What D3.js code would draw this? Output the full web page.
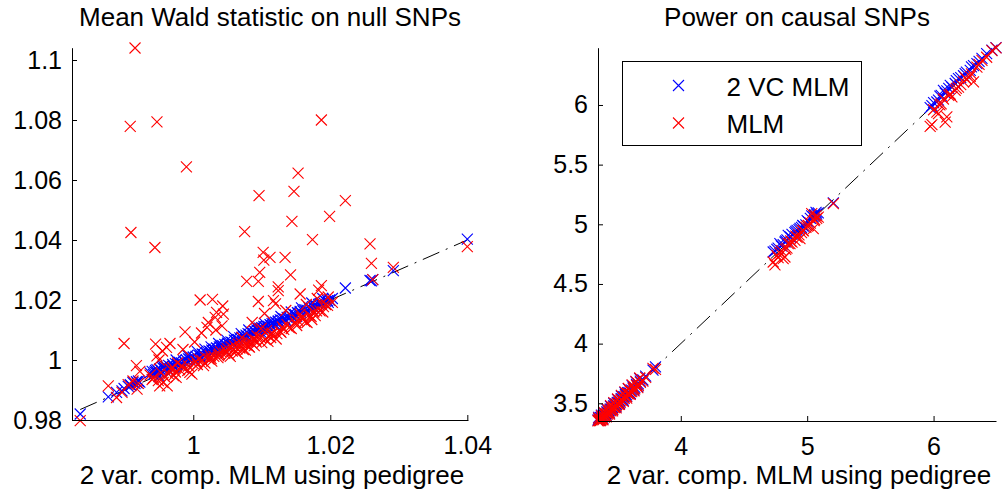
<!DOCTYPE html>
<html>
<head>
<meta charset="utf-8">
<script src="https://d3js.org/d3.v7.min.js"></script>
<style>
  body { margin: 0; background: #fff; }
</style>
</head>
<body>
<svg id="chart" width="1005" height="495"></svg>
<script>

// left panel: mean Wald statistic on null SNPs (x shared by both series)
let nullX = [
    0.9835, 0.9876, 0.9888, 0.9896, 0.9899, 0.9905, 0.9908, 0.9909, 0.9912, 0.9915, 0.9917, 0.9918, 0.9920, 0.9922,
    0.9937, 0.9940, 0.9942, 0.9944, 0.9945, 0.9947, 0.9947, 0.9949, 0.9951, 0.9953, 0.9955, 0.9958, 0.9961, 0.9962, 0.9964,
    0.9967, 0.9970, 0.9971, 0.9974, 0.9977, 0.9980, 0.9983, 0.9986, 0.9988, 0.9990, 0.9993, 0.9995, 0.9998, 1.0000,
    1.0004, 1.0008, 1.0010, 1.0013, 1.0015, 1.0018, 1.0020, 1.0023, 1.0025, 1.0027, 1.0028, 1.0030, 1.0032, 1.0034, 1.0036, 1.0038,
    1.0040, 1.0042, 1.0044, 1.0046, 1.0048, 1.0050, 1.0052, 1.0055, 1.0057, 1.0060, 1.0062, 1.0064, 1.0066, 1.0068, 1.0071, 1.0073,
    1.0075, 1.0077, 1.0078, 1.0080, 1.0082, 1.0085, 1.0087, 1.0089, 1.0091, 1.0093, 1.0095, 1.0095, 1.0096, 1.0097, 1.0098, 1.0100,
    1.0102, 1.0103, 1.0105, 1.0107, 1.0110, 1.0112, 1.0113, 1.0115, 1.0117, 1.0120, 1.0122, 1.0124, 1.0124, 1.0127, 1.0130,
    1.0132, 1.0134, 1.0137, 1.0140, 1.0142, 1.0144, 1.0147, 1.0149, 1.0152, 1.0153, 1.0156, 1.0156, 1.0160, 1.0163, 1.0166,
    1.0169, 1.0172, 1.0174, 1.0176, 1.0178, 1.0180, 1.0183, 1.0185, 1.0187, 1.0187, 1.0190, 1.0193, 1.0196, 1.0199, 1.0203,
    1.0222, 1.0258, 1.0260, 1.0262, 1.0292, 1.0400,
    0.9950, 0.9956, 0.9966, 0.9975, 0.9985, 0.9992, 1.0002, 1.0006, 1.0012, 1.0017, 1.0022, 1.0026, 1.0033,
    1.0037, 1.0043, 1.0049, 1.0054, 1.0059, 1.0065, 1.0070, 1.0076, 1.0081, 1.0086, 1.0092, 1.0099, 1.0104,
    1.0109, 1.0114, 1.0121, 1.0128, 1.0135, 1.0143, 1.0151, 1.0158, 1.0165, 1.0173, 1.0181, 1.0189, 1.0197
];
let nullY2vc = [
    0.9820, 0.9877, 0.9892, 0.9897, 0.9905, 0.9912, 0.9918, 0.9915, 0.9925, 0.9921, 0.9928, 0.9924, 0.9930, 0.9926,
    0.9957, 0.9962, 0.9952, 0.9960, 0.9965, 0.9958, 0.9968, 0.9962, 0.9970, 0.9966, 0.9975, 0.9970, 0.9978, 0.9972, 0.9982,
    0.9976, 0.9985, 0.9979, 0.9988, 0.9985, 0.9992, 0.9990, 0.9997, 0.9994, 1.0000, 1.0004, 1.0002, 1.0008, 1.0010,
    1.0012, 1.0016, 1.0014, 1.0020, 1.0018, 1.0024, 1.0022, 1.0030, 1.0027, 1.0033, 1.0030, 1.0036, 1.0034, 1.0040, 1.0038, 1.0044,
    1.0043, 1.0049, 1.0046, 1.0052, 1.0050, 1.0056, 1.0054, 1.0060, 1.0058, 1.0066, 1.0063, 1.0069, 1.0068, 1.0074, 1.0075, 1.0080,
    1.0078, 1.0083, 1.0080, 1.0088, 1.0085, 1.0092, 1.0090, 1.0096, 1.0094, 1.0100, 1.0098, 1.0104, 1.0100, 1.0106, 1.0103, 1.0108,
    1.0106, 1.0112, 1.0110, 1.0114, 1.0112, 1.0118, 1.0116, 1.0121, 1.0120, 1.0126, 1.0124, 1.0130, 1.0128, 1.0134, 1.0132,
    1.0138, 1.0136, 1.0142, 1.0143, 1.0148, 1.0146, 1.0152, 1.0151, 1.0158, 1.0156, 1.0162, 1.0159, 1.0164, 1.0168, 1.0166,
    1.0174, 1.0172, 1.0178, 1.0176, 1.0182, 1.0180, 1.0185, 1.0188, 1.0186, 1.0190, 1.0192, 1.0196, 1.0198, 1.0200, 1.0205,
    1.0240, 1.0265, 1.0264, 1.0268, 1.0298, 1.0403,
    0.9945, 0.9980, 0.9960, 1.0000, 0.9975, 1.0015, 0.9998, 1.0028, 1.0005, 1.0036, 1.0012, 1.0044, 1.0025,
    1.0055, 1.0036, 1.0066, 1.0047, 1.0078, 1.0058, 1.0088, 1.0070, 1.0100, 1.0079, 1.0112, 1.0092, 1.0122,
    1.0101, 1.0132, 1.0115, 1.0145, 1.0130, 1.0160, 1.0145, 1.0174, 1.0160, 1.0190, 1.0176, 1.0205, 1.0192
];
let nullYmlm = [
    0.9798, 0.9914, 0.9875, 0.9892, 1.0055, 0.9918, 1.0779, 1.0425, 0.9930, 1.1040, 0.9981, 0.9903, 0.9922, 0.9962,
    0.9950, 0.9935, 0.9940, 1.0375, 1.0053, 1.0794, 1.0014, 0.9931, 0.9914, 0.9958, 1.0030, 0.9945, 1.0042, 0.9914, 0.9953,
    0.9970, 0.9975, 0.9948, 0.9960, 0.9990, 0.9968, 0.9981, 0.9972, 1.0094, 1.0644, 0.9980, 0.9959, 0.9953, 0.9988,
    0.9995, 1.0003, 1.0200, 0.9998, 0.9981, 1.0009, 1.0109, 1.0003, 1.0014, 0.9996, 1.0202, 1.0012, 1.0142, 1.0159, 1.0008, 1.0020,
    1.0028, 1.0114, 1.0153, 1.0022, 1.0031, 1.0038, 1.0018, 1.0044, 1.0030, 1.0048, 1.0027, 1.0037, 1.0053, 1.0040, 1.0075, 1.0035,
    1.0428, 1.0050, 1.0262, 1.0062, 1.0043, 1.0058, 1.0070, 1.0048, 1.0066, 1.0080, 1.0195, 1.0262, 1.0548, 1.0292, 1.0075, 1.0058,
    1.0359, 1.0333, 1.0068, 1.0098, 1.0080, 1.0342, 1.0075, 1.0090, 1.0198, 1.0187, 1.0088, 1.0231, 1.0244, 1.0095, 1.0110,
    1.0102, 1.0342, 1.0118, 1.0108, 1.0284, 1.0462, 1.0562, 1.0125, 1.0133, 1.0623, 1.0220, 1.0153, 1.0140, 1.0128, 1.0125,
    1.0150, 1.0145, 1.0401, 1.0160, 1.0148, 1.0164, 1.0233, 1.0164, 1.0800, 1.0248, 1.0178, 1.0185, 1.0182, 1.0479, 1.0192,
    1.0531, 1.0387, 1.0322, 1.0268, 1.0309, 1.0378,
    1.0000, 0.9925, 1.0055, 0.9942, 1.0035, 0.9965, 1.0060, 0.9985, 1.0090, 0.9990, 1.0125, 1.0005, 1.0100,
    1.0015, 1.0180, 1.0025, 1.0012, 1.0036, 1.0022, 1.0056, 1.0033, 1.0045, 1.0125, 1.0060, 1.0105, 1.0155,
    1.0062, 1.0085, 1.0070, 1.0092, 1.0165, 1.0105, 1.0115, 1.0140, 1.0185, 1.0135, 1.0205, 1.0160, 1.0210
];

// right panel: power on causal SNPs
let powX = [
    3.345, 3.352, 3.358, 3.363, 3.370, 3.376, 3.381, 3.389, 3.395, 3.402, 3.408, 3.415, 3.421, 3.428, 3.434, 3.441,
    3.447, 3.455, 3.462, 3.468, 3.476, 3.483, 3.490, 3.497, 3.505, 3.512, 3.520, 3.528, 3.536, 3.545, 3.553, 3.562,
    3.571, 3.580, 3.590, 3.600, 3.612, 3.624, 3.636, 3.650, 3.664, 3.680, 3.700, 3.722, 3.780, 3.800,
    3.350, 3.372, 3.392, 3.418, 3.444, 3.470, 3.500, 3.530, 3.558, 3.585, 3.615, 3.645, 3.675,
    3.362, 3.384, 3.410, 3.436, 3.460, 3.488, 3.515, 3.545, 3.572, 3.600, 3.630, 3.660,
    4.731, 4.745, 4.770, 4.784, 4.810, 4.824, 4.840, 4.850, 4.864, 4.880, 4.903, 4.920, 4.943, 4.955, 4.970, 4.990,
    5.010, 5.036, 5.048, 5.060, 5.075, 5.088, 5.207,
    4.760, 4.795, 4.830, 4.870, 4.910, 4.935, 4.965, 5.000, 5.025, 5.055, 5.070,
    5.973, 5.987, 6.026, 6.039, 6.060, 6.078, 6.092, 6.105, 6.132, 6.145, 6.171, 6.197, 6.215, 6.237, 6.260, 6.290,
    6.316, 6.343, 6.360, 6.383, 6.462, 6.494,
    6.000, 6.050, 6.120, 6.180, 6.250, 6.300, 6.420
];
let powY2vc = [
    3.360, 3.371, 3.365, 3.382, 3.378, 3.391, 3.388, 3.402, 3.398, 3.414, 3.411, 3.428, 3.424, 3.440, 3.437, 3.452,
    3.450, 3.466, 3.463, 3.479, 3.477, 3.494, 3.491, 3.508, 3.506, 3.522, 3.521, 3.538, 3.537, 3.555, 3.554, 3.572,
    3.570, 3.590, 3.589, 3.610, 3.611, 3.632, 3.634, 3.658, 3.662, 3.686, 3.697, 3.728, 3.778, 3.806,
    3.382, 3.400, 3.418, 3.448, 3.474, 3.500, 3.531, 3.560, 3.590, 3.620, 3.648, 3.680, 3.706,
    3.358, 3.372, 3.400, 3.418, 3.444, 3.470, 3.500, 3.526, 3.556, 3.582, 3.612, 3.640,
    4.768, 4.775, 4.800, 4.838, 4.830, 4.850, 4.870, 4.908, 4.895, 4.915, 4.930, 4.950, 4.965, 4.975, 4.985, 4.995,
    5.020, 5.070, 5.062, 5.080, 5.085, 5.095, 5.180,
    4.790, 4.820, 4.860, 4.890, 4.940, 4.955, 4.990, 5.030, 5.050, 5.075, 5.100,
    5.978, 5.995, 6.025, 6.040, 6.080, 6.123, 6.100, 6.118, 6.165, 6.150, 6.180, 6.221, 6.230, 6.245, 6.275, 6.290,
    6.330, 6.347, 6.365, 6.390, 6.459, 6.480,
    6.020, 6.075, 6.140, 6.205, 6.262, 6.320, 6.430
];
let powYmlm = [
    3.353, 3.358, 3.354, 3.368, 3.362, 3.380, 3.372, 3.392, 3.384, 3.404, 3.396, 3.418, 3.410, 3.430, 3.422, 3.444,
    3.436, 3.457, 3.450, 3.470, 3.463, 3.485, 3.478, 3.500, 3.492, 3.515, 3.508, 3.530, 3.524, 3.546, 3.541, 3.563,
    3.558, 3.582, 3.577, 3.601, 3.598, 3.624, 3.621, 3.648, 3.650, 3.676, 3.686, 3.718, 3.792, 3.785,
    3.375, 3.396, 3.424, 3.452, 3.480, 3.506, 3.536, 3.566, 3.596, 3.624, 3.654, 3.683, 3.712,
    3.355, 3.362, 3.386, 3.410, 3.436, 3.462, 3.490, 3.516, 3.544, 3.574, 3.604, 3.632,
    4.684, 4.660, 4.720, 4.760, 4.712, 4.726, 4.800, 4.838, 4.838, 4.850, 4.866, 4.890, 4.880, 4.930, 4.945, 4.975,
    4.990, 5.090, 4.964, 5.040, 5.050, 5.061, 5.173,
    4.740, 4.780, 4.790, 4.860, 4.900, 4.912, 4.950, 4.985, 5.010, 5.030, 5.070,
    5.820, 5.836, 5.941, 5.927, 6.010, 6.050, 5.857, 5.900, 6.090, 6.067, 6.123, 6.150, 6.170, 6.193, 6.215, 6.240,
    6.193, 6.318, 6.340, 6.374, 6.455, 6.478,
    5.960, 6.000, 6.080, 6.140, 6.230, 6.260, 6.400
];

let nullXTicks = [1, 1.02, 1.04],
    nullYTicks = [0.98, 1, 1.02, 1.04, 1.06, 1.08, 1.1],
    powXTicks = [4, 5, 6],
    powYTicks = [3.5, 4, 4.5, 5, 5.5, 6];

let seriesNames = ["2 VC MLM", "MLM"],
    seriesColors = ["#0000ff", "#ff0000"],
    xLabel = "2 var. comp. MLM using pedigree";

let font = "'Liberation Sans', Arial, Helvetica, sans-serif";
let svg = d3.select("#chart");

svg.append("rect").attr("width", 1005).attr("height", 495).attr("fill", "#fff");

// little "x" marker
let cross = "M-5.5,-5.5L5.5,5.5M-5.5,5.5L5.5,-5.5";

function buildPanel(p) {
    let x = d3.scaleLinear().domain(p.xDomain).range([p.left, p.right]),
        y = d3.scaleLinear().domain(p.yDomain).range([p.bottom, p.top]);

    let g = svg.append("g");

    // y = x reference line
    let ext = d3.extent(p.xs);
    g.append("path")
        .datum(ext)
        .attr("fill", "none")
        .attr("stroke", "#000")
        .attr("stroke-width", 1)
        .attr("stroke-dasharray", "18,7,2,7")
        .attr("d", d3.line().x(function(d) { return x(d); }).y(function(d) { return y(d); }));

    // markers, blue first then red on top
    p.ys.forEach(function(ys, k) {
        g.append("g").selectAll("path")
            .data(p.xs.map(function(d, i) { return [d, ys[i]]; }))
            .enter().append("path")
            .attr("d", cross)
            .attr("transform", function(d) { return "translate(" + x(d[0]) + "," + y(d[1]) + ")"; })
            .attr("fill", "none")
            .attr("stroke", seriesColors[k])
            .attr("stroke-width", 1.1);
    });

    // axes
    let xa = g.append("g")
        .attr("transform", "translate(0," + p.bottom + ")")
        .call(d3.axisBottom(x).tickValues(p.xTicks).tickSizeInner(-5).tickSizeOuter(0)
            .tickPadding(16).tickFormat(function(d) { return String(d); }));
    let ya = g.append("g")
        .attr("transform", "translate(" + p.left + ",0)")
        .call(d3.axisLeft(y).tickValues(p.yTicks).tickSizeInner(-5).tickSizeOuter(0)
            .tickPadding(10).tickFormat(function(d) { return String(d); }));

    [xa, ya].forEach(function(a) {
        a.attr("font-family", font).attr("font-size", 25);
        a.selectAll("path, line").attr("stroke", "#000");
        a.selectAll("text").attr("fill", "#000");
    });

    // title and x label
    g.append("text")
        .attr("x", (p.left + p.right) / 2)
        .attr("y", 26)
        .attr("text-anchor", "middle")
        .attr("font-family", font)
        .attr("font-size", "26px")
        .text(p.title);

    g.append("text")
        .attr("x", (p.left + p.right) / 2 + 2)
        .attr("y", 484)
        .attr("text-anchor", "middle")
        .attr("font-family", font)
        .attr("font-size", "26px")
        .text(xLabel);
}

buildPanel({
    title: "Mean Wald statistic on null SNPs",
    xs: nullX, ys: [nullY2vc, nullYmlm],
    xDomain: [0.9823, 1.0401], yDomain: [0.98, 1.1041],
    xTicks: nullXTicks, yTicks: nullYTicks,
    left: 72, right: 468, bottom: 420, top: 47.7
});

buildPanel({
    title: "Power on causal SNPs",
    xs: powX, ys: [powY2vc, powYmlm],
    xDomain: [3.345, 6.494], yDomain: [3.3516, 6.48],
    xTicks: powXTicks, yTicks: powYTicks,
    left: 598, right: 996, bottom: 421, top: 47.7
});

// legend box
let legend = svg.append("g").attr("transform", "translate(622.5,61.5)");

legend.append("rect")
    .attr("width", 239)
    .attr("height", 84)
    .attr("fill", "#fff")
    .attr("stroke", "#000")
    .attr("stroke-width", 1);

seriesNames.forEach(function(name, i) {
    legend.append("path")
        .attr("d", cross)
        .attr("transform", "translate(56," + (24 + i * 37.5) + ")")
        .attr("fill", "none")
        .attr("stroke", seriesColors[i])
        .attr("stroke-width", 1.1);
    legend.append("text")
        .attr("x", 104)
        .attr("y", 34 + i * 37)
        .attr("font-family", font)
        .attr("font-size", "26px")
        .text(name);
});

</script>
</body>
</html>
